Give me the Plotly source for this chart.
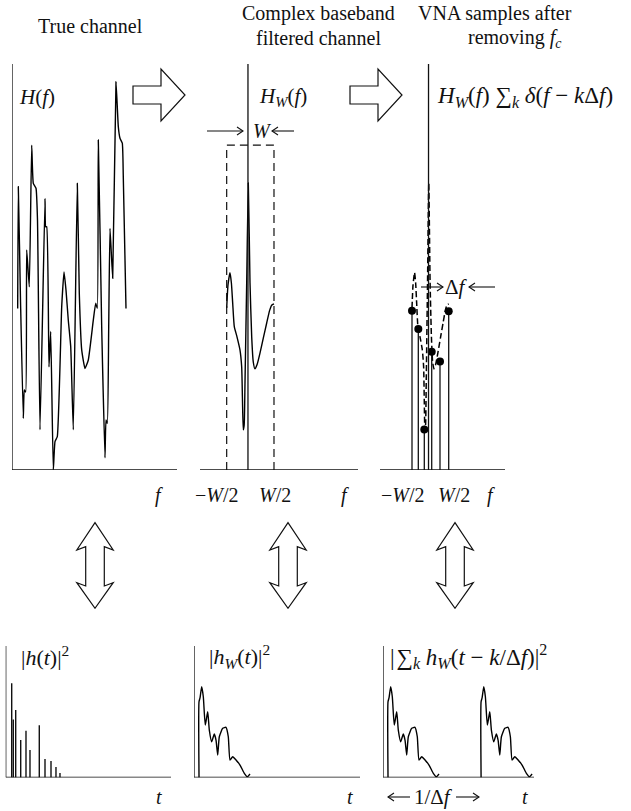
import plotly.graph_objects as go

FIG_W, FIG_H = 631, 811
FONT = "Liberation Serif"
INK = "#111111"

# ---------------- data (arbitrary schematic units) ----------------
# Panel 1: true channel H(f)   (f: 0..10, H: 0..10)
true_f = [0.345, 0.382, 0.515, 0.685, 0.745, 0.83, 0.89, 1.048, 1.194, 1.291, 1.455, 1.545,
          1.697, 2.0, 2.042, 2.103, 2.242, 2.345, 2.503, 2.606, 2.745, 3.012, 3.152, 3.273,
          3.412, 3.558, 3.715, 3.958, 4.079, 4.224, 4.424, 4.624, 4.927, 5.073, 5.17, 5.23,
          5.436, 5.636, 5.697, 5.776, 5.861, 5.939, 6.103, 6.303, 6.442, 6.545, 6.685, 6.745, 6.909]
true_H = [3.98, 6.98, 4.19, 1.27, 1.97, 1.92, 5.42, 4.51, 8.00, 7.06, 6.94, 6.16,
          0.99, 6.69, 5.99, 5.99, 2.54, 3.41, 0.0, 0.70, 0.82, 4.02, 4.88, 4.43,
          3.69, 3.04, 0.99, 7.06, 4.35, 2.96, 2.50, 2.71, 3.69, 4.11, 3.98, 8.13,
          3.53, 0.30, 1.23, 1.15, 3.53, 5.95, 4.72, 9.56, 8.46, 8.17, 8.05, 7.22, 3.98]

# Panel 2: complex baseband filtered channel H_W(f)   (f in units of W)
hw_f = [-0.500, -0.472, -0.430, -0.400, -0.373, -0.339, -0.282, -0.219, -0.183, -0.166,
        -0.149, -0.130, -0.113, -0.077, -0.043, -0.007, 0.029, 0.062, 0.098, 0.141,
        0.204, 0.274, 0.346, 0.405, 0.451, 0.500]
hw_H = [3.99, 4.56, 4.86, 4.60, 4.11, 3.53, 3.28, 2.96, 2.54, 1.72,
        0.99, 1.11, 2.14, 4.61, 7.07, 4.61, 3.28, 2.66, 2.49, 2.59,
        2.88, 3.25, 3.62, 3.92, 4.06, 4.09]
band_edges = [-0.5, 0.5]
band_top = 8.0

# Panel 3: VNA samples of H_W(f)
sample_f = [-0.50, -0.328, -0.165, 0.037, 0.263, 0.50]
sample_H = [3.92, 3.47, 1.00, 2.91, 2.67, 3.91]

# Panel 4: impulse response |h(t)|^2
imp_t = [1.82, 2.30, 3.03, 4.55, 6.15, 7.36, 10.18, 11.91, 13.73, 15.24, 16.45]
imp_p = [7.16, 4.41, 5.13, 2.85, 3.56, 2.09, 3.97, 1.41, 1.25, 0.80, 0.34]

# Panel 5: band-limited |h_W(t)|^2
hwt_t = [1.52, 1.52, 1.82, 2.33, 2.82, 3.42, 4.15, 4.64, 5.36, 6.15, 6.67, 7.18, 7.67,
         8.70, 9.70, 10.39, 10.91, 11.73, 12.73, 13.94, 15.24, 16.15, 16.97]
hwt_p = [0.0, 5.76, 6.05, 6.90, 6.14, 3.99, 5.00, 3.61, 2.72, 3.31, 2.85, 1.71, 3.10,
         3.74, 3.82, 3.10, 1.33, 1.58, 1.33, 0.95, 0.32, 0.06, 0.27]

# Panel 6: aliased copies, shifted by k/Δf
alias_shift = [0.0, 28.2]

# ---------------- layout helpers ----------------
def xdom(l, r):
    return [l / FIG_W, r / FIG_W]

def ydom(t, b):
    return [1 - b / FIG_H, 1 - t / FIG_H]

fig = go.Figure()

panels = {
    "1": dict(x=(12, 177), y=(64, 470), xr=[0, 10], yr=[0, 10]),
    "2": dict(x=(200, 358), y=(64, 470), xr=[-1.064, 2.276], yr=[0, 10]),
    "3": dict(x=(380, 505), y=(64, 470), xr=[-1.372, 2.034], yr=[0, 10]),
    "4": dict(x=(5.7, 171), y=(646, 777.5), xr=[0, 50.1], yr=[0, 10]),
    "5": dict(x=(194, 360), y=(646, 777.5), xr=[0, 50.3], yr=[0, 10]),
    "6": dict(x=(383, 534), y=(646, 777.5), xr=[0, 45.75], yr=[0, 10]),
}
layout = {}
for k, p in panels.items():
    xn = "xaxis" if k == "1" else "xaxis" + k
    yn = "yaxis" if k == "1" else "yaxis" + k
    xa = "x" if k == "1" else "x" + k
    ya = "y" if k == "1" else "y" + k
    layout[xn] = dict(domain=xdom(*p["x"]), range=p["xr"], visible=False, anchor=ya, fixedrange=True)
    layout[yn] = dict(domain=ydom(*p["y"]), range=p["yr"], visible=False, anchor=xa, fixedrange=True)
layout["xaxis7"] = dict(domain=[0, 1], range=[0, FIG_W], visible=False, anchor="y7", fixedrange=True)
layout["yaxis7"] = dict(domain=[0, 1], range=[FIG_H, 0], visible=False, anchor="x7", fixedrange=True)

def ax(k):
    return ("x", "y") if k == "1" else ("x" + k, "y" + k)

shapes = []
AXW = 1.3

def axis_lines(k, x0):
    xa, ya = ax(k)
    p = panels[k]
    shapes.append(dict(type="line", xref=xa, yref=ya, x0=x0, x1=x0, y0=0, y1=p["yr"][1],
                       line=dict(color=INK, width=AXW)))
    shapes.append(dict(type="line", xref=xa, yref=ya, x0=p["xr"][0], x1=p["xr"][1], y0=0, y1=0,
                       line=dict(color=INK, width=AXW)))

axis_lines("1", 0)
axis_lines("2", -0.05)
axis_lines("3", -0.05)
axis_lines("4", 0)
axis_lines("5", 0)
axis_lines("6", 0)

CURVE = dict(color="black", width=1.4)

fig.add_trace(go.Scatter(x=true_f, y=true_H, mode="lines", line=dict(**CURVE, shape="spline", smoothing=0.4),
                         xaxis="x", yaxis="y", hoverinfo="skip"))
fig.add_trace(go.Scatter(x=hw_f, y=hw_H, mode="lines", line=dict(**CURVE, shape="spline", smoothing=0.5),
                         xaxis="x2", yaxis="y2", hoverinfo="skip"))
shapes.append(dict(type="path", xref="x2", yref="y2",
                   path=f"M {band_edges[0]},0 L {band_edges[0]},{band_top} L {band_edges[1]},{band_top} L {band_edges[1]},0",
                   line=dict(color=INK, width=1.2, dash="8px,5px")))

fig.add_trace(go.Scatter(x=hw_f, y=hw_H, mode="lines",
                         line=dict(color="black", width=1.5, dash="6px,3px", shape="spline", smoothing=0.5),
                         xaxis="x3", yaxis="y3", hoverinfo="skip"))
stem_x, stem_y = [], []
for f, h in zip(sample_f, sample_H):
    stem_x += [f, f, None]
    stem_y += [0, h, None]
fig.add_trace(go.Scatter(x=stem_x, y=stem_y, mode="lines", line=dict(color=INK, width=1.3),
                         xaxis="x3", yaxis="y3", hoverinfo="skip"))
fig.add_trace(go.Scatter(x=sample_f, y=sample_H, mode="markers", marker=dict(color="black", size=8),
                         xaxis="x3", yaxis="y3", hoverinfo="skip"))

ix, iy = [], []
for t, v in zip(imp_t, imp_p):
    ix += [t, t, None]
    iy += [0, v, None]
fig.add_trace(go.Scatter(x=ix, y=iy, mode="lines", line=dict(color=INK, width=1.4),
                         xaxis="x4", yaxis="y4", hoverinfo="skip"))

fig.add_trace(go.Scatter(x=hwt_t, y=hwt_p, mode="lines", line=dict(**CURVE, shape="spline", smoothing=0.5),
                         xaxis="x5", yaxis="y5", hoverinfo="skip"))
for s in alias_shift:
    fig.add_trace(go.Scatter(x=[t + s for t in hwt_t], y=hwt_p, mode="lines",
                             line=dict(**CURVE, shape="spline", smoothing=0.5),
                             xaxis="x6", yaxis="y6", hoverinfo="skip"))

# ---------------- decorations (pixel layer) ----------------
def right_block_arrow(x0, yc, shaft=28, head=24, sh=9, hh=26):
    pts = [(x0, yc - sh), (x0 + shaft, yc - sh), (x0 + shaft, yc - hh), (x0 + shaft + head, yc),
           (x0 + shaft, yc + hh), (x0 + shaft, yc + sh), (x0, yc + sh)]
    return "M " + " L ".join(f"{a},{b}" for a, b in pts) + " Z"

def updown_block_arrow(cx, top=522.7, bot=608.3, hw=18.2, sw=9.3, c1=550, j1=546.7, c2=582.7, j2=586):
    pts = [(cx, top), (cx + hw, c1), (cx + sw, j1), (cx + sw, j2), (cx + hw, c2), (cx, bot),
           (cx - hw, c2), (cx - sw, j2), (cx - sw, j1), (cx - hw, c1)]
    return "M " + " L ".join(f"{a},{b}" for a, b in pts) + " Z"

for x0 in (133, 350):
    shapes.append(dict(type="path", xref="x7", yref="y7", path=right_block_arrow(x0, 95),
                       fillcolor="white", line=dict(color=INK, width=1.2), layer="above"))
for cx in (95, 288, 455):
    shapes.append(dict(type="path", xref="x7", yref="y7", path=updown_block_arrow(cx),
                       fillcolor="white", line=dict(color=INK, width=1.2), layer="above"))

def line_arrow(x_tail, x_head, y, hl=6, hh=4):
    d = 1 if x_head > x_tail else -1
    shapes.append(dict(type="line", xref="x7", yref="y7", x0=x_tail, x1=x_head, y0=y, y1=y,
                       line=dict(color=INK, width=1.1), layer="above"))
    shapes.append(dict(type="path", xref="x7", yref="y7",
                       path=f"M {x_head - d * hl},{y - hh} L {x_head},{y} L {x_head - d * hl},{y + hh}",
                       line=dict(color=INK, width=1.1), layer="above"))

annotations = []

def txt(s, x, y, size=20, anchor="center"):
    annotations.append(dict(text=s, x=x, y=y, xref="x7", yref="y7", showarrow=False,
                            xanchor=anchor, yanchor="middle",
                            font=dict(family=FONT, size=size, color=INK)))

# titles
txt("True channel", 90, 26)
txt("Complex baseband", 318, 13)
txt("filtered channel", 318, 38)
txt("VNA samples after", 495, 13)
txt("removing <i>f</i><sub><i>c</i></sub>", 515, 38)

# panel labels
txt("<i>H</i>(<i>f</i>)", 17, 97, size=21, anchor="left")
txt("<i>H</i><sub><i>W</i></sub>(<i>f</i>)", 257, 97, size=21, anchor="left")
txt("<i>H</i><sub><i>W</i></sub>(<i>f</i>) ∑<sub><i>k</i></sub> <i>δ</i>(<i>f</i> − <i>k</i>Δ<i>f</i>)",
    435, 97, size=23, anchor="left")
txt("<i>W</i>", 262, 131, size=20)
line_arrow(207, 243, 131)
line_arrow(294, 272, 131)
txt("Δ<i>f</i>", 456, 287, size=21)
line_arrow(421, 443, 287)
line_arrow(495, 469, 287)

for s, x in [("<i>f</i>", 159), ("−<i>W</i>/2", 217), ("<i>W</i>/2", 275), ("<i>f</i>", 345),
             ("−<i>W</i>/2", 403), ("<i>W</i>/2", 454), ("<i>f</i>", 491)]:
    txt(s, x, 495)

txt("|<i>h</i>(<i>t</i>)|<sup>2</sup>", 19, 656, size=22, anchor="left")
txt("|<i>h</i><sub><i>W</i></sub>(<i>t</i>)|<sup>2</sup>", 207, 656, size=22, anchor="left")
txt("|&#8202;∑<sub><i>k</i></sub> <i>h</i><sub><i>W</i></sub>(<i>t</i> − <i>k</i>/Δ<i>f</i>)|<sup>2</sup>",
    387.5, 656, size=23, anchor="left")
for x in (159, 350, 525):
    txt("<i>t</i>", x, 797)
txt("1/Δ<i>f</i>", 433, 797, size=21)
line_arrow(410, 388, 797)
line_arrow(456, 479, 797)

fig.update_layout(
    width=FIG_W, height=FIG_H, margin=dict(l=0, r=0, t=0, b=0),
    paper_bgcolor="white", plot_bgcolor="rgba(0,0,0,0)", showlegend=False,
    shapes=shapes, annotations=annotations, **layout,
)
fig.write_html("out.html", config={"staticPlot": True},
               post_script="document.body.style.margin='0';document.body.style.padding='0';"
                           "document.documentElement.style.overflow='hidden';")
